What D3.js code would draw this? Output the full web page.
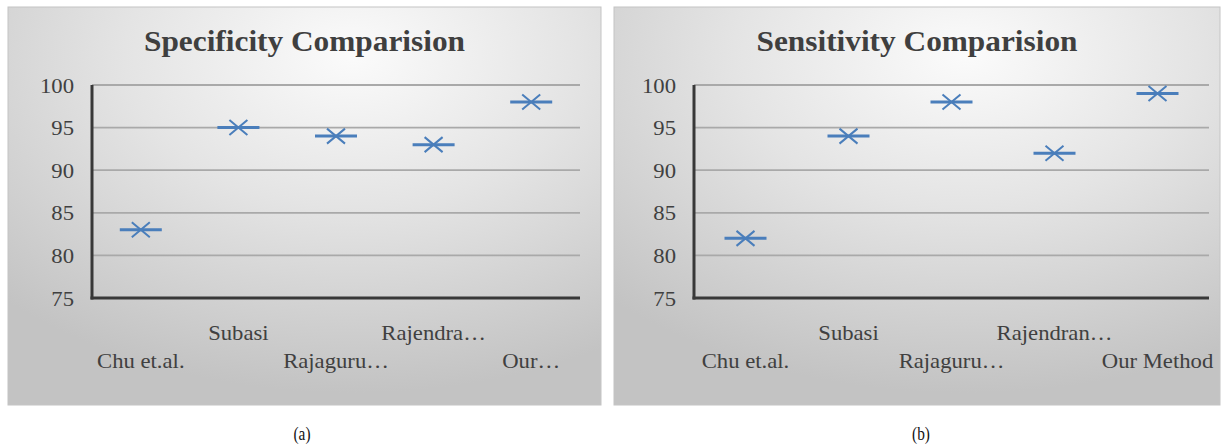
<!DOCTYPE html>
<html>
<head>
<meta charset="utf-8">
<script src="https://cdn.jsdelivr.net/npm/d3@7"></script>
<style>
  html, body { margin: 0; padding: 0; background: #fff; }
  svg { display: block; }
  text { font-family: "Liberation Serif", "Times New Roman", serif; }
</style>
</head>
<body>
<svg id="chart" width="1222" height="447"></svg>
<script>
// Methods compared in both panels
const specLabels = ["Chu et.al.", "Subasi", "Rajaguru…", "Rajendra…", "Our…"];
const sensLabels = ["Chu et.al.", "Subasi", "Rajaguru…", "Rajendran…", "Our Method"];
// Scores (%)
const specificity = [83, 95, 94, 93, 98];
const sensitivity = [82, 94, 98, 92, 99];
// Value axis ticks
const yTicks = [75, 80, 85, 90, 95, 100];

const svg = d3.select("#chart");
const defs = svg.append("defs");

const grad = defs.append("radialGradient")
  .attr("id", "panelBg")
  .attr("cx", "58%").attr("cy", "12%").attr("r", "85%")
  .attr("fx", "58%").attr("fy", "12%");
grad.append("stop").attr("offset", "0%").attr("stop-color", "#fbfbfb");
grad.append("stop").attr("offset", "45%").attr("stop-color", "#e4e4e4");
grad.append("stop").attr("offset", "100%").attr("stop-color", "#c3c3c3");

const SX = 1.08; // horizontal stretch of the serif lettering

function stretchedText(g, x, y, str, size, anchor, weight, fill) {
  return g.append("text")
    .attr("transform", `translate(${x},${y}) scale(${SX},1)`)
    .attr("text-anchor", anchor)
    .attr("font-size", size)
    .attr("font-weight", weight || "normal")
    .attr("fill", fill || "#404040")
    .text(str);
}

function drawPanel(cfg) {
  const g = svg.append("g");

  g.append("rect")
    .attr("x", cfg.box[0]).attr("y", cfg.box[1])
    .attr("width", cfg.box[2] - cfg.box[0]).attr("height", cfg.box[3] - cfg.box[1])
    .attr("fill", "url(#panelBg)")
    .attr("stroke", "#c4c4c4").attr("stroke-width", 1);

  const x = d3.scaleBand().domain(cfg.labels).range([cfg.left, cfg.right]);
  const y = d3.scaleLinear().domain([75, 100]).range([cfg.bottom, cfg.top]);

  // title
  stretchedText(g, (cfg.box[0] + cfg.box[2]) / 2, 51, cfg.title, 29, "middle", "bold", "#3f3f3f");

  // horizontal gridlines
  g.append("g").selectAll("line")
    .data(yTicks.filter(t => t > 75))
    .join("line")
    .attr("x1", cfg.left).attr("x2", cfg.right)
    .attr("y1", d => y(d)).attr("y2", d => y(d))
    .attr("stroke", "#a9a9a9").attr("stroke-width", 1.8);

  // value axis labels
  const yAxis = d3.axisLeft(y).tickValues(yTicks).tickSize(0).tickPadding(18);
  const ya = g.append("g").attr("transform", `translate(${cfg.left},0)`).call(yAxis);
  ya.select(".domain").remove();
  ya.selectAll(".tick text").each(function () {
    const t = d3.select(this);
    t.attr("font-size", 21)
      .attr("font-family", "'Liberation Serif', 'Times New Roman', serif")
      .attr("fill", "#404040")
      .attr("dy", "0.34em")
      .attr("transform", `scale(${SX},1)`)
      .attr("x", -18 / SX);
  });

  // axis lines
  g.append("line")
    .attr("x1", cfg.left).attr("x2", cfg.left)
    .attr("y1", y(100)).attr("y2", y(75) + 1.5)
    .attr("stroke", "#383838").attr("stroke-width", 3);
  g.append("line")
    .attr("x1", cfg.left - 1.5).attr("x2", cfg.right)
    .attr("y1", y(75)).attr("y2", y(75))
    .attr("stroke", "#383838").attr("stroke-width", 3);

  // category labels, staggered on two rows
  cfg.labels.forEach((lab, i) => {
    const cx = x(lab) + x.bandwidth() / 2;
    const yy = i % 2 === 1 ? 340 : 368;
    stretchedText(g, cx, yy, lab, 21, "middle", "normal", "#404040");
  });

  // markers: horizontal dash with a cross
  const m = g.append("g").selectAll("g")
    .data(cfg.values)
    .join("g")
    .attr("transform", (d, i) => `translate(${x(cfg.labels[i]) + x.bandwidth() / 2},${y(d)})`);
  m.append("line")
    .attr("x1", -21).attr("x2", 21).attr("y1", 0).attr("y2", 0)
    .attr("stroke", "#4a7ebb").attr("stroke-width", 3);
  m.append("path")
    .attr("d", "M-9,-7.5L9,7.5M-9,7.5L9,-7.5")
    .attr("stroke", "#4a7ebb").attr("stroke-width", 2).attr("fill", "none");

  // caption below
  svg.append("text")
    .attr("transform", `translate(${cfg.captionX},440) scale(0.9,1.1)`)
    .attr("text-anchor", "middle")
    .attr("font-size", 17).attr("fill", "#111")
    .text(cfg.caption);
}

drawPanel({
  box: [8, 7, 601, 405],
  left: 92, right: 580, top: 85, bottom: 298,
  labels: specLabels, values: specificity,
  title: "Specificity Comparision",
  caption: "(a)", captionX: 302
});

drawPanel({
  box: [614, 7, 1220, 405],
  left: 694, right: 1209, top: 85, bottom: 298,
  labels: sensLabels, values: sensitivity,
  title: "Sensitivity Comparision",
  caption: "(b)", captionX: 921
});
</script>
</body>
</html>
